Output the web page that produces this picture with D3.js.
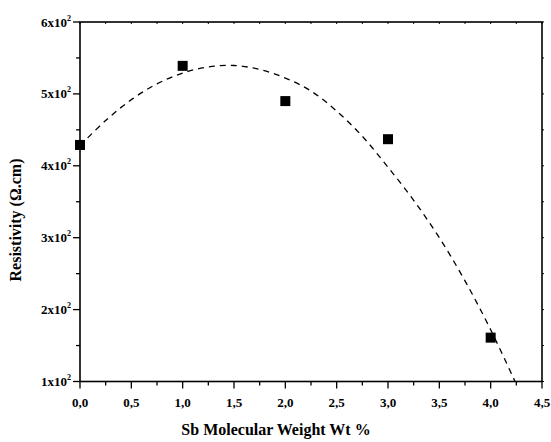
<!DOCTYPE html>
<html><head><meta charset="utf-8">
<script src="https://cdn.jsdelivr.net/npm/d3@7"></script>
<style>body{margin:0;background:#fff}svg{display:block}</style>
</head><body><svg id="c" width="551" height="442"></svg>
<script>
const xValues=[0,1,2,3,4];
const resistivity=[429,539,490,437,161];
const fitX=[0,0.25,0.5,0.75,1,1.25,1.5,1.75,2,2.25,2.5,2.75,3,3.25,3.5,3.75,4,4.25];
const fitY=[428,463,492,514,529,537.5,539.5,534,522,504,476,441,398,352,300,240,172,96];
const xTicks=[0,0.5,1,1.5,2,2.5,3,3.5,4,4.5];
const yTicks=[100,200,300,400,500,600];
const xTitle="Sb Molecular Weight Wt %";
const yTitle="Resistivity (Ω.cm)";

const FF="Liberation Serif";
const svg=d3.select("#c");
const L=80,R=542,T=22,B=381.5;
const x=d3.scaleLinear().domain([0,4.5]).range([L,R]);
const y=d3.scaleLinear().domain([100,600]).range([B,T]);
const minorX=d3.range(0,4.51,0.25), minorY=d3.range(100,601,50);

svg.append("rect").attr("x",L).attr("y",T).attr("width",R-L).attr("height",B-T).attr("fill","none").attr("stroke","#000").attr("stroke-width",1.6);

const gx=svg.append("g").attr("transform",`translate(0,${B})`);
gx.selectAll("line").data(minorX).join("line").attr("x1",d=>x(d)).attr("x2",d=>x(d)).attr("y1",0)
  .attr("y2",d=>Math.abs(d*2-Math.round(d*2))<1e-6?7:4).attr("stroke","#000").attr("stroke-width",1.3);
gx.selectAll("text").data(xTicks).join("text").attr("x",d=>x(d)).attr("y",25).attr("text-anchor","middle")
  .attr("font-family",FF).attr("font-weight","bold").attr("font-size",13).text(d=>d3.format(".1f")(d).replace(".",","));
svg.append("g").selectAll("line").data(minorX).join("line").attr("x1",d=>x(d)).attr("x2",d=>x(d)).attr("y1",T).attr("y2",T+2).attr("stroke","#000");
const gy=svg.append("g");
gy.selectAll("line").data(minorY).join("line").attr("y1",d=>y(d)).attr("y2",d=>y(d)).attr("x2",L)
  .attr("x1",d=>d%100===0?L-7:L-4).attr("stroke","#000").attr("stroke-width",1.3);
const lbl=gy.selectAll("text").data(yTicks).join("text").attr("x",L-9).attr("y",d=>y(d)+4.5).attr("text-anchor","end")
  .attr("font-family",FF).attr("font-weight","bold").attr("font-size",13);
lbl.append("tspan").text(d=>(d/100)+"x10");
lbl.append("tspan").attr("font-size",8).attr("dy",-6).text("2");
svg.append("g").selectAll("line").data(minorY).join("line").attr("y1",d=>y(d)).attr("y2",d=>y(d)).attr("x1",R).attr("x2",R+2).attr("stroke","#000");

svg.append("clipPath").attr("id","clip").append("rect").attr("x",L).attr("y",T).attr("width",R-L).attr("height",B-T);
const fit=fitX.map((d,i)=>[d,fitY[i]]);
svg.append("path").attr("clip-path","url(#clip)").attr("d",d3.line().x(d=>x(d[0])).y(d=>y(d[1])).curve(d3.curveCatmullRom)(fit))
  .attr("fill","none").attr("stroke","#000").attr("stroke-width",1.3).attr("stroke-dasharray","6,5");
const s=10;
svg.append("g").selectAll("rect").data(xValues.map((d,i)=>[d,resistivity[i]])).join("rect")
  .attr("x",d=>x(d[0])-s/2).attr("y",d=>y(d[1])-s/2).attr("width",s).attr("height",s).attr("fill","#000");

svg.append("text").attr("x",276).attr("y",435).attr("text-anchor","middle").attr("font-family",FF).attr("font-weight","bold").attr("font-size",16).text(xTitle);
svg.append("text").attr("transform",`translate(21,220) rotate(-90)`).attr("text-anchor","middle").attr("font-family",FF).attr("font-weight","bold").attr("font-size",16).text(yTitle);
</script></body></html>
